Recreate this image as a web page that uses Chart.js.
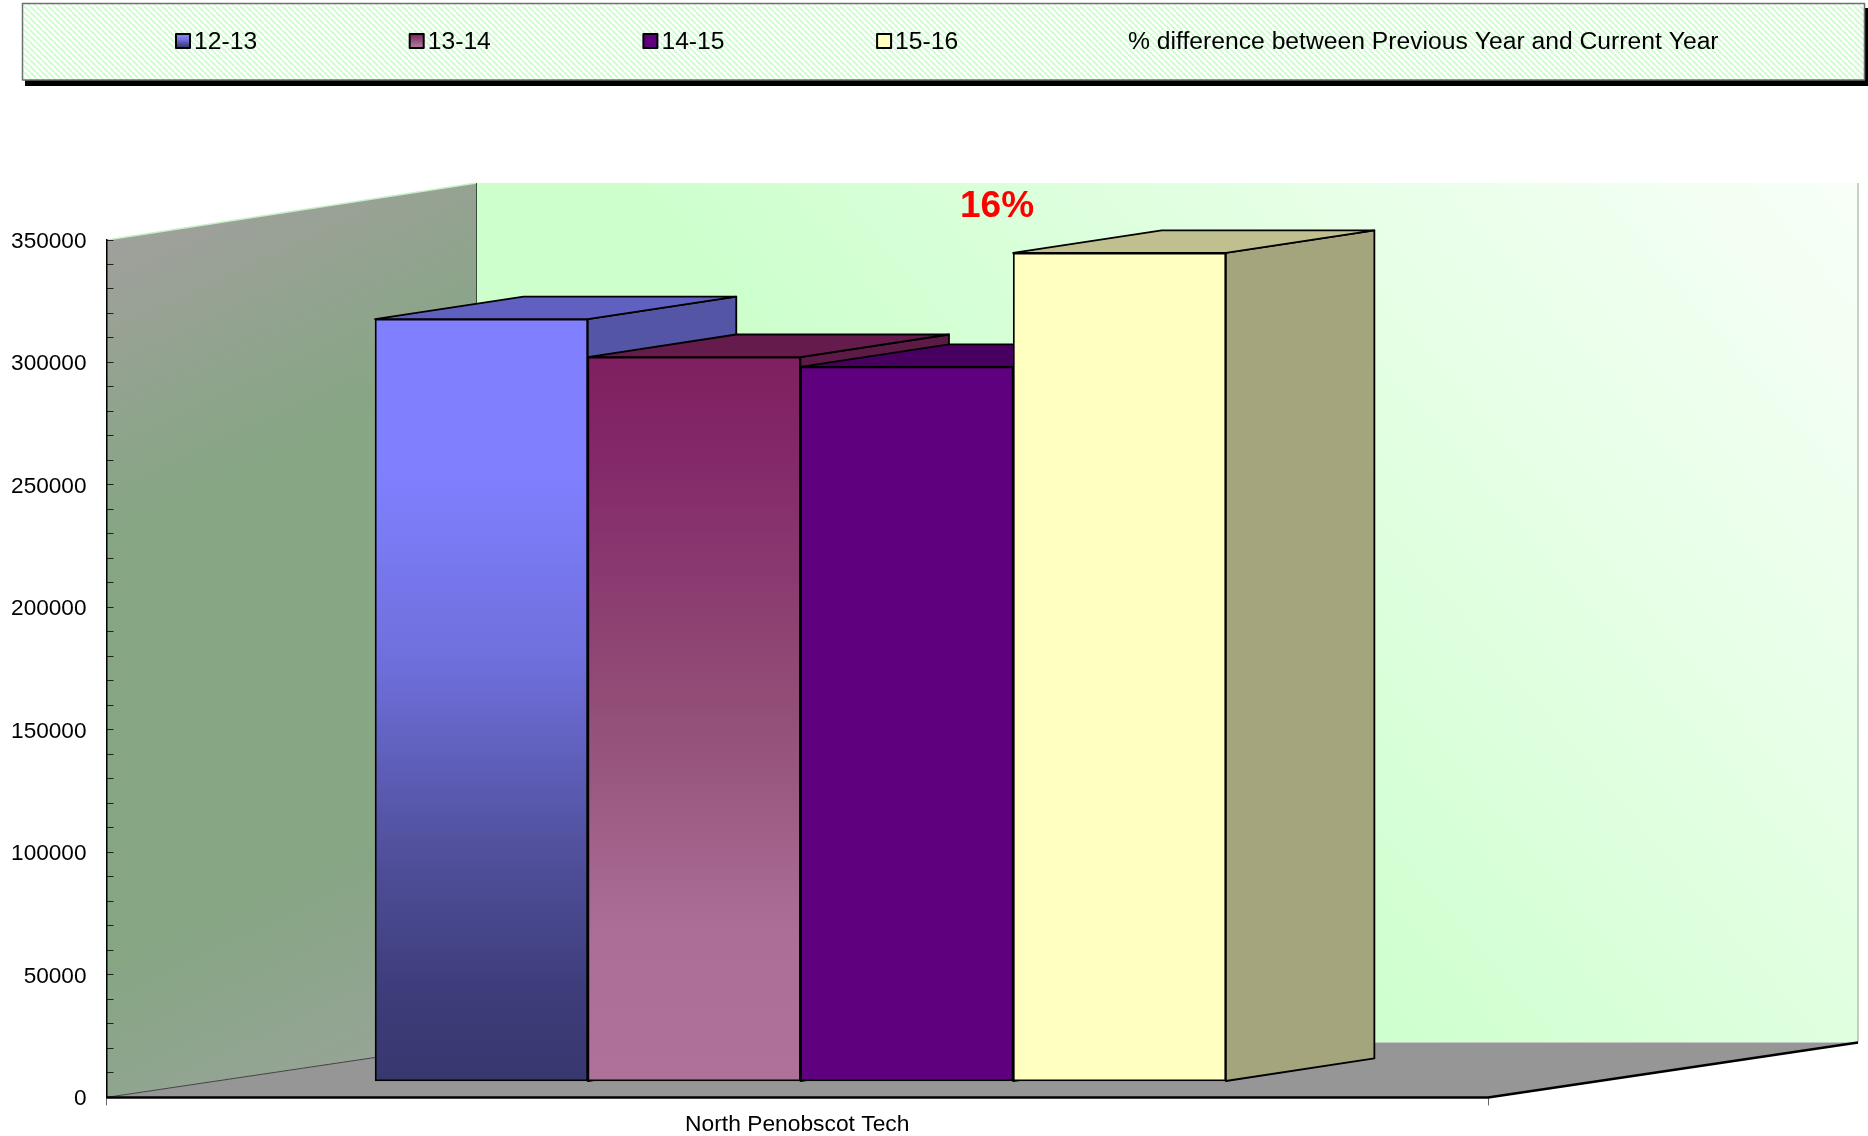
<!DOCTYPE html>
<html>
<head>
<meta charset="utf-8">
<title>North Penobscot Tech</title>
<script src="https://cdn.jsdelivr.net/npm/chart.js@4"></script>
<style>
    html, body { margin: 0; padding: 0; background: #fff; overflow: hidden; }
    #wrap { position: relative; width: 1868px; height: 1136px; }
</style>
</head>
<body>
<div id="wrap"><canvas id="grafico" width="1868" height="1136"></canvas></div>
<script>
// data
const categories = ['North Penobscot Tech'];
const seriesNames = ['12-13', '13-14', '14-15', '15-16'];
const seriesValues = [311000, 295500, 291500, 338000];
const extraLegend = '% difference between Previous Year and Current Year';
const differenceLabel = '16%';
const yMajorStep = 50000;
const yMinorStep = 10000;
const yMax = 350000;

// colours: front gradient stops [pos, colour], then top and side faces
const frontStops = [
    [[0, '#8080ff'], [0.2, '#8080ff'], [0.45, '#6f6fdc'], [0.7, '#50509c'], [0.88, '#3e3d7b'], [1, '#38376f']],
    [[0, '#7f1f5f'], [0.15, '#84296a'], [0.5, '#935078'], [0.8, '#ac6e97'], [1, '#af7099']],
    [[0, '#5f007f'], [1, '#5f007f']],
    [[0, '#ffffc0'], [1, '#ffffc0']]
];
const topColors = ['#6060c0', '#651b4b', '#47005f', '#bfbf90'];
const sideColors = ['#5555a5', '#5d1a47', '#47005f', '#a5a57d'];

// depth of the box and of the bars
const wallDx = 370, wallDyTop = -57, wallDyBottom = -55;
const barDx = 148.5, barDy = -22.6;

function poly(ctx, pts, fill, stroke, lw) {
    ctx.beginPath();
    pts.forEach((p, i) => i ? ctx.lineTo(p[0], p[1]) : ctx.moveTo(p[0], p[1]));
    ctx.closePath();
    if (fill) { ctx.fillStyle = fill; ctx.fill(); }
    if (stroke) { ctx.strokeStyle = stroke; ctx.lineWidth = lw || 1; ctx.stroke(); }
}

function line(ctx, x1, y1, x2, y2, color, lw) {
    ctx.beginPath();
    ctx.moveTo(x1, y1);
    ctx.lineTo(x2, y2);
    ctx.strokeStyle = color;
    ctx.lineWidth = lw;
    ctx.stroke();
}

function gradientFor(ctx, y1, y2, stops) {
    const g = ctx.createLinearGradient(0, y1, 0, y2);
    stops.forEach(s => g.addColorStop(s[0], s[1]));
    return g;
}

function hatch(ctx) {
    const c = document.createElement('canvas');
    c.width = 6; c.height = 6;
    const p = c.getContext('2d');
    p.fillStyle = '#ffffff';
    p.fillRect(0, 0, 6, 6);
    p.strokeStyle = '#ccffcc';
    p.lineWidth = 2;
    [-6, 0, 6].forEach(o => {
        p.beginPath();
        p.moveTo(o, 0);
        p.lineTo(o + 6, 6);
        p.stroke();
    });
    return ctx.createPattern(c, 'repeat');
}

// walls and floor behind the axes
const box3d = {
    id: 'box3d',
    beforeDraw(chart) {
        const ctx = chart.ctx;
        const a = chart.chartArea;
        const yAxis = chart.scales.y;
        const top = yAxis.getPixelForValue(yMax), bottom = yAxis.getPixelForValue(0);
        const backTop = top + wallDyTop, backBottom = bottom + wallDyBottom;

        const back = ctx.createLinearGradient(a.right + wallDx, backTop, 1130, 800);
        back.addColorStop(0, '#f8fff8');
        back.addColorStop(0.45, '#e6ffe6');
        back.addColorStop(1, '#ccffcc');
        ctx.fillStyle = back;
        ctx.fillRect(a.left + wallDx, backTop, a.width, backBottom - backTop);

        poly(ctx, [[a.left, bottom], [a.right, bottom], [a.right + wallDx, backBottom], [a.left + wallDx, backBottom]], '#969696');

        const side = ctx.createLinearGradient(a.left, top, a.left + wallDx, bottom - 60);
        side.addColorStop(0, '#a0a09c');
        side.addColorStop(0.3, '#86a684');
        side.addColorStop(0.75, '#86a684');
        side.addColorStop(1, '#98a498');
        poly(ctx, [[a.left, top], [a.left + wallDx, backTop], [a.left + wallDx, backBottom], [a.left, bottom]], side);

        line(ctx, a.left, top, a.left + wallDx, backTop, '#c8f0c8', 1.5);
        line(ctx, a.left + wallDx, backTop, a.left + wallDx, backBottom, '#3c4c3c', 1);
        line(ctx, a.right + wallDx, backTop, a.right + wallDx, backBottom, '#90a890', 1);
        line(ctx, a.left, bottom, a.left + wallDx, backBottom, '#404040', 1);
    },
    // side and top faces, left to right; the fronts come from the bar elements
    beforeDatasetsDraw(chart) {
        const ctx = chart.ctx;
        const a = chart.chartArea;
        const bottom = chart.scales.y.getPixelForValue(0);
        line(ctx, a.left, bottom, a.right, bottom, '#000', 2.5);
        line(ctx, a.right, bottom, a.right + wallDx, bottom + wallDyBottom, '#000', 2.5);

        ctx.lineJoin = 'round';
        chart.data.datasets.forEach((ds, i) => {
            const bar = chart.getDatasetMeta(i).data[0];
            const l = bar.x - bar.width / 2, r = bar.x + bar.width / 2;
            poly(ctx, [[r, bar.base], [r + barDx, bar.base + barDy], [r + barDx, bar.y + barDy], [r, bar.y]], sideColors[i], '#000', 1.8);
            poly(ctx, [[l, bar.y], [l + barDx, bar.y + barDy], [r + barDx, bar.y + barDy], [r, bar.y]], topColors[i], '#000', 1.8);
        });
    },
    afterDraw(chart) {
        const ctx = chart.ctx;

        // legend box
        ctx.fillStyle = '#000';
        ctx.fillRect(25, 8, 1843, 78);
        ctx.fillStyle = hatch(ctx);
        ctx.fillRect(22, 3, 1843, 77);
        ctx.strokeStyle = '#707070';
        ctx.lineWidth = 1.5;
        ctx.strokeRect(22.5, 3.5, 1842, 76.5);

        ctx.font = '24.7px "Liberation Sans"';
        ctx.textBaseline = 'middle';
        ctx.textAlign = 'left';
        chart.data.datasets.forEach((ds, i) => {
            const x = 176 + i * 233.7;
            ctx.fillStyle = gradientFor(ctx, 33, 48, frontStops[i]);
            ctx.fillRect(x, 34, 14, 14);
            ctx.strokeStyle = '#000';
            ctx.lineWidth = 2;
            ctx.strokeRect(x, 34, 14, 14);
            ctx.fillStyle = '#000';
            ctx.fillText(ds.label, x + 18, 42);
        });
        ctx.fillStyle = '#000';
        ctx.fillText(extraLegend, 1128, 42);

        // percent label
        ctx.fillStyle = '#ff0000';
        ctx.font = 'bold 37px "Liberation Sans"';
        ctx.textAlign = 'center';
        ctx.fillText(differenceLabel, 997, 207);
    }
};

new Chart(document.getElementById('grafico').getContext('2d'), {
    type: 'bar',
    data: {
        labels: categories,
        datasets: seriesNames.map((name, i) => ({
            label: name,
            data: [{ x: 0, y: seriesValues[i] }],
            xAxisID: 'xBars',
            yAxisID: 'yBars',
            barThickness: 212.7,
            borderColor: '#000',
            borderWidth: 1.8,
            borderSkipped: false,
            backgroundColor: c => {
                const el = c.chart.scales.yBars;
                const y1 = el.getPixelForValue(seriesValues[i]), y2 = el.getPixelForValue(0);
                // first pass runs before the layout, no pixels yet
                if (!isFinite(y1) || !isFinite(y2)) return frontStops[i][0][1];
                return gradientFor(c.chart.ctx, y1, y2, frontStops[i]);
            }
        }))
    },
    options: {
        responsive: false,
        animation: false,
        events: [],
        layout: { padding: { left: 0, right: 380, top: 240, bottom: 0 } },
        plugins: { legend: { display: false }, tooltip: { enabled: false }, title: { display: false } },
        scales: {
            x: {
                type: 'category',
                offset: true,
                afterFit: s => { s.height = 38.6; },
                grid: { offset: true, drawOnChartArea: false, color: '#666', tickLength: 8 },
                border: { display: false },
                ticks: { color: '#000', padding: 6, font: { family: 'Liberation Sans', size: 22.8 } }
            },
            y: {
                type: 'linear',
                min: 0,
                max: yMax,
                // the big tick padding would otherwise push the plot bottom up
                afterFit: s => { s.width = 106.5; s.paddingBottom = 0; s.paddingTop = 0; },
                grid: { drawOnChartArea: false, color: '#222', tickLength: -7 },
                border: { display: true, color: '#000', width: 1.5 },
                ticks: {
                    stepSize: yMinorStep,
                    autoSkip: false,
                    color: '#000',
                    padding: 27,
                    labelOffset: 1.5,
                    font: { family: 'Liberation Sans', size: 22.6 },
                    callback: v => (v % yMajorStep === 0 ? String(v) : '')
                }
            },
            // same scale as y and x, moved to the bars' plane inside the box
            xBars: { type: 'linear', display: false, min: -0.50272, max: 0.49728 },
            yBars: { type: 'linear', display: false, min: -6700, max: yMax - 6700 }
        }
    },
    plugins: [box3d]
});
</script>
</body>
</html>
